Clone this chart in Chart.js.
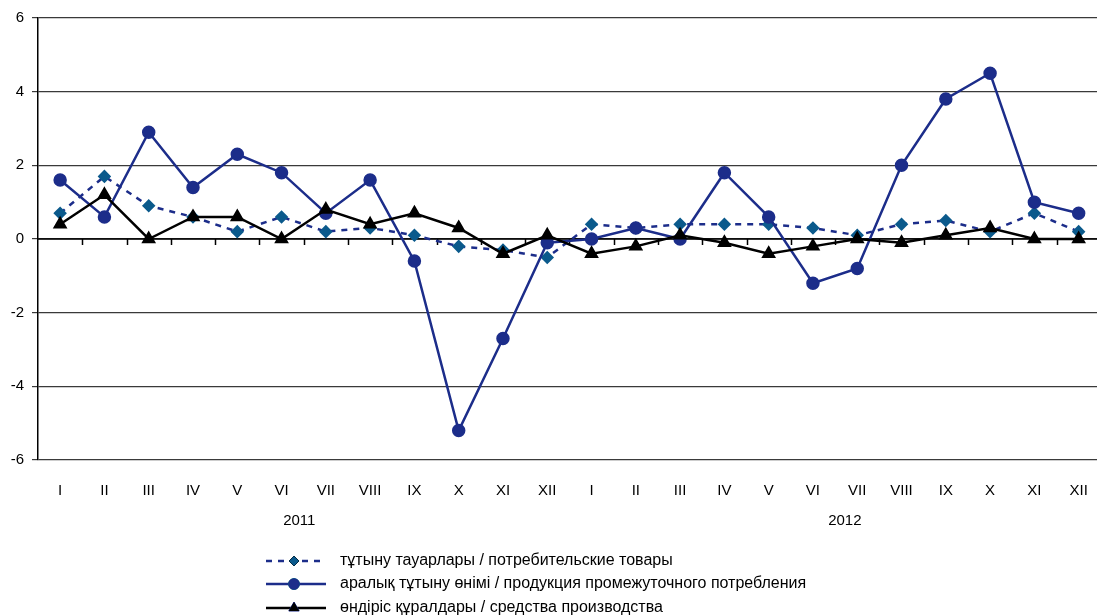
<!DOCTYPE html>
<html>
<head>
<meta charset="utf-8">
<script src="https://cdn.jsdelivr.net/npm/chart.js@4/dist/chart.umd.min.js"></script>
<style>
html, body { margin: 0; padding: 0; background: #fff; overflow: hidden; }
#wrap { width: 1110px; height: 616px; }
</style>
</head>
<body>
<div id="wrap"><canvas id="chart" width="1110" height="616"></canvas></div>
<script>
const months = ['I', 'II', 'III', 'IV', 'V', 'VI', 'VII', 'VIII', 'IX', 'X', 'XI', 'XII',
                'I', 'II', 'III', 'IV', 'V', 'VI', 'VII', 'VIII', 'IX', 'X', 'XI', 'XII'];
const years = ['2011', '2012'];

const consumerGoods = [0.7, 1.7, 0.9, 0.6, 0.2, 0.6, 0.2, 0.3, 0.1, -0.2, -0.3, -0.5,
                       0.4, 0.3, 0.4, 0.4, 0.4, 0.3, 0.1, 0.4, 0.5, 0.2, 0.7, 0.2];
const intermediate = [1.6, 0.6, 2.9, 1.4, 2.3, 1.8, 0.7, 1.6, -0.6, -5.2, -2.7, -0.1,
                      0.0, 0.3, 0.0, 1.8, 0.6, -1.2, -0.8, 2.0, 3.8, 4.5, 1.0, 0.7];
const capitalGoods = [0.4, 1.2, 0.0, 0.6, 0.6, 0.0, 0.8, 0.4, 0.7, 0.3, -0.4, 0.1,
                      -0.4, -0.2, 0.1, -0.1, -0.4, -0.2, 0.0, -0.1, 0.1, 0.3, 0.0, 0.0];

const seriesNames = [
    'тұтыну тауарлары / потребительские товары',
    'аралық тұтыну өнімі / продукция промежуточного потребления',
    'өндіріс құралдары / средства производства'
];

const FAMILY = '"Liberation Sans", Arial, sans-serif';
const NAVY = '#1c2d8a';
const TEAL = '#0b5a8c';

// tick marks on the zero line, year labels and the legend
const extras = {
    id: 'extras',
    beforeDatasetsDraw(chart) {
        const ctx = chart.ctx;
        const x = chart.scales.x;
        const y0 = chart.scales.y.getPixelForValue(0);
        ctx.save();
        ctx.strokeStyle = '#000';
        ctx.lineWidth = 1.5;
        ctx.beginPath();
        ctx.moveTo(x.left, y0);
        ctx.lineTo(x.right, y0);
        for (let i = 1; i < months.length; i++) {
            const px = Math.round(x.left + (x.right - x.left) * i / months.length) + 0.5;
            ctx.moveTo(px, y0);
            ctx.lineTo(px, y0 + 6);
        }
        ctx.stroke();
        ctx.restore();
    },
    afterDraw(chart) {
        const ctx = chart.ctx;
        const x = chart.scales.x;
        ctx.save();
        ctx.font = '15px ' + FAMILY;
        ctx.fillStyle = '#000';
        ctx.textAlign = 'center';
        ctx.textBaseline = 'middle';
        // year captions sit roughly under the middle of each block of months
        ctx.fillText(years[0], x.getPixelForValue(5.4), 521);
        ctx.fillText(years[1], x.getPixelForValue(17.72), 521);

        const rows = [561, 584, 608];
        ctx.font = '16px ' + FAMILY;
        chart.data.datasets.forEach((ds, i) => {
            const yy = rows[i];
            ctx.save();
            ctx.strokeStyle = ds.borderColor;
            ctx.lineWidth = ds.borderWidth;
            ctx.setLineDash(ds.borderDash || []);
            ctx.beginPath();
            ctx.moveTo(266, yy);
            ctx.lineTo(326, yy);
            ctx.stroke();
            ctx.restore();
            Chart.helpers.drawPoint(ctx, {
                pointStyle: ds.pointStyle,
                radius: ds.pointRadius,
                rotation: 0,
                borderWidth: 1
            }, 294, yy);
            ctx.fillStyle = ds.pointBackgroundColor;
            ctx.strokeStyle = ds.pointBorderColor;
            ctx.fill();
            ctx.fillStyle = '#000';
            ctx.textAlign = 'left';
            ctx.fillText(seriesNames[i], 340, yy);
        });
        ctx.restore();
    }
};

new Chart(document.getElementById('chart'), {
    type: 'line',
    data: {
        labels: months,
        datasets: [{
            label: seriesNames[0],
            data: consumerGoods,
            borderColor: NAVY,
            borderWidth: 2.5,
            borderDash: [6, 6],
            pointStyle: 'rectRot',
            pointRadius: 5,
            pointBackgroundColor: TEAL,
            pointBorderColor: TEAL,
            order: 3
        }, {
            label: seriesNames[1],
            data: intermediate,
            borderColor: NAVY,
            borderWidth: 2.5,
            pointStyle: 'circle',
            pointRadius: 5.5,
            pointBackgroundColor: NAVY,
            pointBorderColor: NAVY,
            order: 2
        }, {
            label: seriesNames[2],
            data: capitalGoods,
            borderColor: '#000',
            borderWidth: 2.5,
            pointStyle: 'triangle',
            pointRadius: 6,
            pointBackgroundColor: '#000',
            pointBorderColor: '#000',
            order: 1
        }]
    },
    options: {
        responsive: false,
        animation: false,
        events: [],
        layout: { padding: { top: 18, right: 3, bottom: 0, left: 0 } },
        plugins: { legend: { display: false }, tooltip: { enabled: false } },
        elements: { line: { tension: 0 } },
        scales: {
            x: {
                offset: true,
                grid: { display: false, drawTicks: false },
                border: { display: false },
                ticks: { font: { family: FAMILY, size: 15 }, color: '#000', padding: 22, maxRotation: 0, autoSkip: false },
                afterFit(scale) { scale.height = 156; }
            },
            y: {
                min: -6,
                max: 6,
                ticks: { stepSize: 2, font: { family: FAMILY, size: 15 }, color: '#000', padding: 8 },
                grid: { color: '#3a3a3a', lineWidth: 1.2, tickLength: 6 },
                border: { color: '#000', width: 1.5 },
                afterFit(scale) { scale.width = 38; }
            }
        }
    },
    plugins: [extras]
});
</script>
</body>
</html>
